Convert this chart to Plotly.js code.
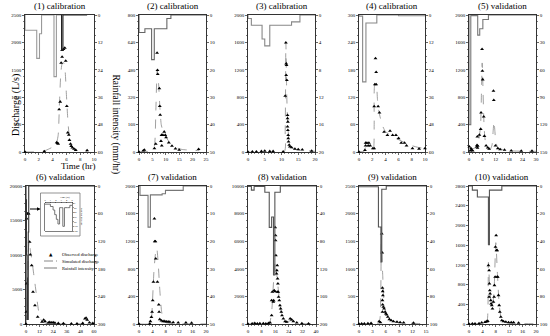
<!DOCTYPE html>
<html><head><meta charset="utf-8">
<script src="https://cdn.plot.ly/plotly-3.0.1.min.js"></script>
<style>html,body{margin:0;padding:0;background:#fff}#c{width:550px;height:336px}</style>
</head><body><div id="c"></div>
<script>
const panelTitles = ["(1) calibration","(2) calibration","(3) calibration","(4) calibration","(5) validation",
  "(6) validation","(7) validation","(8) validation","(9) validation","(10) validation"];

// Panel 1
const p1_obs_t = [0,2.8,4.6,4.7,4.8,4.95,5.1,5.24,5.38,5.38,5.58,5.77,5.9,6.06,6.2,6.35,6.44,6.6,6.7,6.87,7.1,7.35,9.0];
const p1_obs_q = [0,10,175,160,150,777,916,1627,1736,1857,1875,1900,1663,838,352,310,218,146,109,79,55,36,30];
const p1_sim_t = [0,2,3,4,4.5,4.8,5.0,5.2,5.4,5.6,5.8,6.0,6.2,6.4,6.6,6.8,7.0,7.5,8,9];
const p1_sim_q = [0,5,30,90,140,300,900,1450,1620,1630,1500,1050,600,300,160,100,70,35,20,10];
const p1_rain_t = [0,0,1.7,2.1,2.4,4.2,4.55,5.3];
const p1_rain_i = [0,6.7,19,8.2,0,27,0,0];
const p1_rain2_t = [5.3,5.3,5.5,9];
const p1_rain2_i = [0,15.4,0,0];

// Panel 2
const p2_obs_t = [0,1.6,2,5.75,6.25,6.75,6.9,7.0,7.6,7.75,7.9,8.4,8.2,8.5,8.9,9.4,9.8,10.1,11.1,12.3,13.6,15,22.25];
const p2_obs_q = [0,8,12,21,47,579,478,454,371,268,216,99,64,37,99,118,99,85,54,35,19,12,16];
const p2_sim_t = [0,3,5,5.8,6.3,6.8,7.3,7.8,8.3,9,10,11,12,14,16,20,22.5];
const p2_sim_q = [0,2,8,40,250,480,400,260,160,120,90,65,45,25,15,10,8];
const p2_rain_t = [0,0,2.2,4.7,5.7,10.4,11.9,25];
const p2_rain_i = [0,6.4,5,16.3,5,1.3,0,0];

// Panel 3
const p3_obs_t = [0,1.3,2.5,4,5,6.5,7.5,10.5,11.1,11.3,11.4,11.5,11.4,11.6,11.8,11.8,11.9,11.8,11.9,12.0,12.0,12.1,12.3,12.5,13,14,15,16.2,19];
const p3_obs_q = [0,5,5,10,15,10,10,5,820,1597,1291,1267,1121,1048,539,490,441,369,320,247,199,150,102,78,68,44,39,34,15];
const p3_sim_t = [0,10.8,11.1,11.3,11.5,11.7,12,12.3,12.6,13,14,16,20];
const p3_sim_q = [0,5,300,1600,1000,600,300,150,90,60,40,25,10];
const p3_rain_t = [0,0,1,4.2,5,6.5,13,15.5,20];
const p3_rain_i = [0,0.5,1.5,3.5,4.5,1.5,1.0,0,0];

// Panel 4
const p4_obs_t = [0,0.9,1.0,1.0,1.2,1.4,1.5,1.7,2.1,2.3,2.3,2.5,2.6,2.4,2.6,2.9,3.1,3.8,4.3,4.7,5.1,5.6,6.0,6.4,6.9,7.2,8.1,9.1,10];
const p4_obs_q = [0,4,20,14,20,14,20,14,8,8,100,205,175,148,148,100,86,44,37,46,37,37,30,20,20,14,8,7,8];
const p4_sim_t = [0,0.8,1.0,1.5,2.0,2.2,2.3,2.4,2.6,2.8,3.0,3.5,4,5,6,7,8,9,10];
const p4_sim_q = [0,2,10,14,12,10,60,148,148,115,90,60,45,35,27,20,14,10,8];
const p4_rain_t = [0,0,0.55,1.05,2.7,6,10];
const p4_rain_i = [0,0.5,29.3,3.5,0,0.3,0.3];

// Panel 5
const p5_obs_t = [0.15,0.6,0.9,1.2,1.65,3.45,3.6,3.8,3.9,3.75,4.65,5.25,5.4,5.85,6.0,6.15,6.6,6.9,7.65,8.4,9,10.95,11.1,11.85,12.9,13.95,15.9,18.9,23.4,28.2];
const p5_obs_q = [78,20,53,29,20,78,100,60,90,223,248,335,573,1500,1184,1058,515,233,92,63,44,893,757,92,53,39,29,20,15,15];
const p5_sim_t = [0,1,2,3.5,4.5,5.2,5.6,5.9,6.2,6.6,7.0,7.4,8.2,9.5,10.3,10.8,11.2,11.6,12,13,16,20,30];
const p5_sim_q = [0,40,50,80,200,400,900,1300,1000,500,250,140,60,40,100,300,450,300,150,60,30,15,10];
const p5_rain_t = [0,0,0.8,3.9,4.8,6.2,8.7,30];
const p5_rain_i = [0,120,0.7,22,15,5,0,0];

// Panel 6
const p6_obs_t = [0,0.3,0.6,0.6,1.2,1.8,2.35,3.2,3.8,5,6.2,7.9,10.3,14.1,15.6,16.8,19.7,21,22.6,24,25.5,28.5,33,40,45,50,52,53,54,56,59];
const p6_obs_q = [0,1740,5844,15263,15990,15990,15990,11882,10046,8500,4637,2705,1014,290,580,386,200,250,180,220,150,100,80,50,60,100,773,870,600,200,100];
const p6_sim_t = [0,0.5,1,1.5,2,2.9,4,5,7,9,11,13,15,18,22,30,45,50,52,53,55,60];
const p6_sim_q = [0,500,3000,7000,10500,12000,10500,9500,7000,4500,2000,700,300,100,50,20,10,100,700,800,300,50];
const p6_rain_t = [0,0,0.4,0.8,1.2,1.6,2.0,2.4,60];
const p6_rain_i = [0,30,150,290,200,290,100,0,0];
const p6_inset_t = [0,1,1.5,1.8,2.1,2.4,2.7,3.0,3.3,3.6,4.2,4.6,5.0];
const p6_inset_i = [5,15,30,50,70,90,20,20,100,20,20,10,10];

// Panel 7
const p7_obs_t = [0,3.2,3.4,3.7,3.9,4.1,4.3,4.6,4.7,4.9,5.0,5.5,5.9,6.0,6.2,6.7,7.2,7.7,8.2,8.7,9.2,10.2,11.7,14,15.7];
const p7_obs_q = [0,5,39,101,174,343,609,1527,1198,1198,947,609,280,174,68,48,39,39,34,34,29,24,20,20,15];
const p7_sim_t = [0,3.3,3.7,4.0,4.5,5.0,5.3,5.7,6.2,6.7,7.2,8,10,15,20];
const p7_sim_q = [0,5,60,300,800,1050,1100,900,500,200,60,20,5,2,1];
const p7_rain_t = [0,0.3,2.7,3.4,6.9,7.9,13.2,20];
const p7_rain_i = [0,3.4,14.9,3.2,2.8,1.6,0,0];

// Panel 8
const p8_obs_t = [0,2.4,4,5.5,7,9,10.5,12,13,13.9,13.9,14.3,14.9,15.1,15.4,15.8,16.0,16.2,16.2,16.4,16.8,17.0,17.2,17.4,17.6,17.2,17.8,18,18.4,18.8,19.2,19.6,20,20.8,21.8,22.8,24.8,25.7,26.7,28.7,31.7,35.6];
const p8_obs_q = [0,20,50,30,40,40,20,50,100,628,1715,2318,1600,1700,2440,2367,7000,6424,6062,4975,3647,3888,4250,3284,2922,2318,2318,1956,1715,1352,1111,869,628,386,193,145,386,314,193,97,48,24];
const p8_sim_t = [0,2,3,4,6,10,12,13,14,15,16,17,18,19,20,21,22,23,24.5,26,28,32,40];
const p8_sim_q = [0,30,100,50,20,20,50,200,1000,3000,4500,3500,2300,1200,600,300,150,150,220,250,100,30,5];
const p8_rain_t = [0,2,3.6,9.9,12.5,13.9,15,15.8,19,40];
const p8_rain_i = [0.5,6,0.5,9,60,45,129,9,0,0];

// Panel 9
const p9_obs_t = [0,0.6,1.2,2,2.7,4.5,4.8,5.1,5.2,5.25,5.3,5.35,5.25,5.3,5.45,5.25,5.6,5.85,6.0,6.2,6.45,6.8,7.2,7.7,8.5,9.2,10,12.2];
const p9_obs_q = [0,5,5,10,15,48,30,1637,1293,652,592,519,429,350,308,217,278,217,187,169,127,85,66,48,36,30,24,18];
const p9_sim_t = [0,4.3,4.7,5.0,5.3,5.6,6.0,6.5,7,8,10,13,15];
const p9_sim_q = [0,10,100,1450,900,400,200,120,80,40,20,10,8];
const p9_rain_t = [0,4.35,4.9,5.1,6.1,15];
const p9_rain_i = [0.5,29.7,55,2.4,0,0];

// Panel 10
const p10_obs_t = [0,1,1.8,3,3.8,4.8,5.3,5.6,5.8,6.0,6.1,6.2,6.3,6.0,6.5,6.6,6.8,7.0,7.3,7.5,7.6,7.8,7.9,8.1,8.2,8.4,8.4,8.6,8.8,9.0,9.2,9.5,9.8,10.3,11,11.8,12.6,13.3,14.8];
const p10_obs_q = [0,5,5,10,25,40,50,60,1190,1089,818,683,615,548,480,412,379,311,446,548,785,954,1562,1799,1495,1495,954,954,582,379,243,142,74,54,41,30,30,30,20];
const p10_sim_t = [0,5,5.5,5.8,6.2,6.7,7.0,7.5,8.0,8.5,9,9.5,10,12,15,20];
const p10_sim_q = [0,20,100,1250,700,400,350,700,1650,1000,400,150,60,20,10,5];
const p10_rain_t = [0,1,2.5,5.8,6.1,9.8,20];
const p10_rain_i = [0,3,8,42.5,3,0,0];

const panels = [
  {obs:[p1_obs_t,p1_obs_q], sim:[p1_sim_t,p1_sim_q], rain:[[p1_rain_t,p1_rain_i,'#9a9a9a'],[p1_rain2_t,p1_rain2_i,'#222']], xr:[0,10], xd:2, ql:2500, qd:500, rl:60, rd:12, px:[25,94], row:0},
  {obs:[p2_obs_t,p2_obs_q], sim:[p2_sim_t,p2_sim_q], rain:[[p2_rain_t,p2_rain_i,'#666']], xr:[0,25], xd:5, ql:800, qd:160, rl:50, rd:10, px:[139,206], row:0},
  {obs:[p3_obs_t,p3_obs_q], sim:[p3_sim_t,p3_sim_q], rain:[[p3_rain_t,p3_rain_i,'#888']], xr:[0,20], xd:5, ql:2000, qd:400, rl:20, rd:4, px:[248,315], row:0},
  {obs:[p4_obs_t,p4_obs_q], sim:[p4_sim_t,p4_sim_q], rain:[[p4_rain_t,p4_rain_i,'#888']], xr:[0,10], xd:2, ql:300, qd:60, rl:60, rd:12, px:[359,425], row:0},
  {obs:[p5_obs_t,p5_obs_q], sim:[p5_sim_t,p5_sim_q], rain:[[p5_rain_t,p5_rain_i,'#777']], xr:[0,30], xd:6, ql:2000, qd:400, rl:150, rd:30, px:[469,536], row:0},
  {obs:[p6_obs_t,p6_obs_q], sim:[p6_sim_t,p6_sim_q], rain:[[p6_rain_t,p6_rain_i,'#333']], xr:[0,60], xd:12, ql:20000, qd:5000, rl:300, rd:60, px:[26,94], row:1},
  {obs:[p7_obs_t,p7_obs_q], sim:[p7_sim_t,p7_sim_q], rain:[[p7_rain_t,p7_rain_i,'#777']], xr:[0,20], xd:4, ql:2000, qd:400, rl:50, rd:10, px:[139,206], row:1},
  {obs:[p8_obs_t,p8_obs_q], sim:[p8_sim_t,p8_sim_q], rain:[[p8_rain_t,p8_rain_i,'#555']], xr:[0,40], xd:8, ql:10000, qd:2000, rl:200, rd:40, px:[248,316], row:1},
  {obs:[p9_obs_t,p9_obs_q], sim:[p9_sim_t,p9_sim_q], rain:[[p9_rain_t,p9_rain_i,'#555']], xr:[0,15], xd:3, ql:2500, qd:500, rl:100, rd:20, px:[359,426], row:1},
  {obs:[p10_obs_t,p10_obs_q], sim:[p10_sim_t,p10_sim_q], rain:[[p10_rain_t,p10_rain_i,'#555']], xr:[0,20], xd:4, ql:2800, qd:400, rl:100, rd:20, px:[469,536], row:1}
];

const W = 550, H = 336;
const F = 'Liberation Serif, Times New Roman, serif';
const rowsPx = [[15,152],[186,324]];
const px2x = p => p / W;
const px2y = p => 1 - p / H;

const tickFont = {family: F, size: 5, color: '#000'};
function baseAxis(extra) {
  return Object.assign({
    showgrid: false, zeroline: false, showline: true, linecolor: '#000', linewidth: 0.8,
    ticks: 'outside', ticklen: 2, tickwidth: 0.6, tickcolor: '#000',
    tickfont: tickFont, tickformat: 'd', tick0: 0, fixedrange: true
  }, extra);
}

const traces = [];
const layout = {
  width: W, height: H, margin: {l:0, r:0, t:0, b:0},
  paper_bgcolor: '#fff', plot_bgcolor: 'rgba(0,0,0,0)',
  showlegend: false, font: {family: F, color: '#000'},
  annotations: [], shapes: []
};

panels.forEach((p, i) => {
  const k = i + 1;
  const xn = k === 1 ? 'x' : 'x' + k;
  const yl = 'y' + (2*k - 1 === 1 ? '' : (2*k - 1));
  const yr = 'y' + (2*k);
  const xKey = k === 1 ? 'xaxis' : 'xaxis' + k;
  const ylKey = 'yaxis' + (2*k - 1 === 1 ? '' : (2*k - 1));
  const yrKey = 'yaxis' + (2*k);
  const rp = rowsPx[p.row];
  const xd = [px2x(p.px[0]), px2x(p.px[1])];
  const yd = [px2y(rp[1]), px2y(rp[0])];
  const xMinor = (p.xd % 5 === 0) ? p.xd / 5 : p.xd / 4;
  layout[xKey] = baseAxis({domain: xd, anchor: yl, range: p.xr, dtick: p.xd, mirror: true,
    minor: {ticks: 'outside', ticklen: 1.3, tickwidth: 0.5, tickcolor: '#000', dtick: xMinor, showgrid: false}});
  layout[ylKey] = baseAxis({domain: yd, anchor: xn, range: [0, p.ql], dtick: p.qd, side: 'left',
    minor: {ticks: 'outside', ticklen: 1.3, tickwidth: 0.5, tickcolor: '#000', dtick: p.qd / 4, showgrid: false}});
  layout[yrKey] = baseAxis({domain: yd, anchor: xn, overlaying: yl, range: [p.rl, 0], dtick: p.rd, side: 'right',
    minor: {ticks: 'outside', ticklen: 1.3, tickwidth: 0.5, tickcolor: '#000', dtick: p.rd / 4, showgrid: false}});

  p.rain.forEach(r => {
    traces.push({x: r[0], y: r[1], xaxis: xn, yaxis: yr, type: 'scatter', mode: 'lines',
      line: {shape: 'hv', color: r[2], width: 1.1}, hoverinfo: 'skip'});
  });
  traces.push({x: p.sim[0], y: p.sim[1], xaxis: xn, yaxis: yl, type: 'scatter', mode: 'lines',
    line: {color: '#888', width: 0.8, dash: 'dash', shape: 'spline', smoothing: 0.6}, hoverinfo: 'skip'});
  traces.push({x: p.obs[0], y: p.obs[1], xaxis: xn, yaxis: yl, type: 'scatter', mode: 'markers',
    marker: {symbol: 'triangle-up', size: 3.4, color: '#000'}, cliponaxis: false, hoverinfo: 'skip'});

  layout.annotations.push({xref: 'paper', yref: 'paper', x: (xd[0] + xd[1]) / 2, y: px2y(rp[0] - 2),
    xanchor: 'center', yanchor: 'bottom', showarrow: false, text: panelTitles[i],
    font: {family: F, size: 9, color: '#000'}});
});

// Inset in panel 6
layout.xaxis11 = baseAxis({domain: [px2x(45), px2x(72)], anchor: 'y21', range: [0, 5], dtick: 1, side: 'top',
  mirror: true, ticklen: 1, tickwidth: 0.4, linewidth: 0.5, tickfont: {family: F, size: 2.5, color: '#000'}});
layout.yaxis21 = baseAxis({domain: [px2y(231), px2y(203)], anchor: 'x11', range: [120, 0], dtick: 20, side: 'right',
  mirror: true, ticklen: 1, tickwidth: 0.4, linewidth: 0.5, tickfont: {family: F, size: 2.5, color: '#000'}});
traces.push({x: p6_inset_t, y: p6_inset_i, xaxis: 'x11', yaxis: 'y21', type: 'scatter', mode: 'lines',
  line: {shape: 'hv', color: '#666', width: 0.9}, hoverinfo: 'skip'});
layout.shapes.push({type: 'rect', xref: 'paper', yref: 'paper', x0: px2x(40.5), x1: px2x(80), y0: px2y(236), y1: px2y(193),
  line: {color: '#666', width: 0.7}, fillcolor: 'rgba(0,0,0,0)'});
layout.annotations.push({xref: 'paper', yref: 'paper', x: px2x(58), y: px2y(197.5), text: 'Time (hr)', showarrow: false,
  font: {family: F, size: 2.5, color: '#000'}});
layout.annotations.push({xref: 'paper', yref: 'paper', x: px2x(78.5), y: px2y(217), text: 'Rainfall intensity', showarrow: false,
  textangle: 90, font: {family: F, size: 2.5, color: '#000'}});
layout.annotations.push({xref: 'paper', yref: 'paper', x: px2x(40.5), y: px2y(209), ax: -12, ay: 0, axref: 'pixel', ayref: 'pixel',
  showarrow: true, arrowhead: 2, arrowsize: 0.7, arrowwidth: 1, arrowcolor: '#000', text: ''});

// Manual legend in panel 6
const legendItems = ['Observed discharge', 'Simulated discharge', 'Rainfall intensity'];
const legY = [254, 261, 268];
legendItems.forEach((t, j) => {
  layout.annotations.push({xref: 'paper', yref: 'paper', x: px2x(60), y: px2y(legY[j]), xanchor: 'left', yanchor: 'middle',
    text: t, showarrow: false, font: {family: F, size: 4.6, color: '#000'}});
});
layout.annotations.push({xref: 'paper', yref: 'paper', x: px2x(51), y: px2y(legY[0]), xanchor: 'center', yanchor: 'middle',
  text: '\u25B2', showarrow: false, font: {family: 'DejaVu Sans', size: 4.5, color: '#000'}});
layout.shapes.push({type: 'line', xref: 'paper', yref: 'paper', x0: px2x(44), x1: px2x(57), y0: px2y(legY[1]), y1: px2y(legY[1]),
  line: {color: '#555', width: 0.7, dash: 'dashdot'}});
layout.shapes.push({type: 'line', xref: 'paper', yref: 'paper', x0: px2x(44), x1: px2x(57), y0: px2y(legY[2]), y1: px2y(legY[2]),
  line: {color: '#555', width: 0.8}});

// Shared axis labels
layout.annotations.push({xref: 'paper', yref: 'paper', x: px2x(8), y: px2y(72), text: 'Discharge (L/s)', textangle: -90,
  showarrow: false, font: {family: F, size: 10, color: '#000'}});
layout.annotations.push({xref: 'paper', yref: 'paper', x: px2x(108), y: px2y(72), text: 'Rainfall intensity (mm/hr)', textangle: 90,
  showarrow: false, font: {family: F, size: 9.5, color: '#000'}});
layout.annotations.push({xref: 'paper', yref: 'paper', x: px2x(59), y: px2y(166), text: 'Time (hr)',
  showarrow: false, font: {family: F, size: 9, color: '#000'}});

Plotly.newPlot('c', traces, layout, {staticPlot: true, displayModeBar: false});
</script></body></html>
